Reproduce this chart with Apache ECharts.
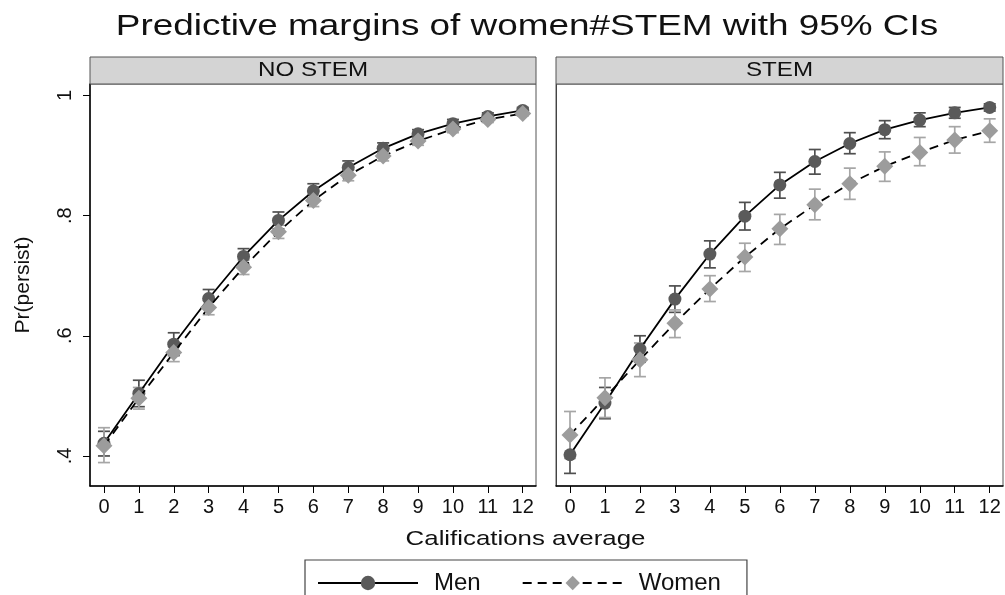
<!DOCTYPE html>
<html>
<head>
<meta charset="utf-8">
<script src="https://cdn.jsdelivr.net/npm/echarts@6/dist/echarts.min.js"></script>
<style>
html,body{margin:0;padding:0;background:#fff;}
#chart{width:1005px;height:595px;}
</style>
</head>
<body>
<div id="chart"></div>
<script>
// ---- data ----
const xValues = [0,1,2,3,4,5,6,7,8,9,10,11,12];
const yTicks = [0.4,0.6,0.8,1];
const panelNames = ['NO STEM','STEM'];
const seriesNames = ['Men','Women'];

const noStemMen   = [0.421,0.504,0.586,0.662,0.732,0.792,0.841,0.880,0.912,0.936,0.953,0.965,0.975];
const noStemMenLo = [0.400,0.482,0.567,0.647,0.719,0.778,0.829,0.869,0.903,0.929,0.946,0.959,0.970];
const noStemMenHi = [0.441,0.526,0.605,0.677,0.745,0.806,0.853,0.891,0.921,0.943,0.960,0.971,0.980];

const noStemWomen   = [0.417,0.496,0.572,0.647,0.714,0.773,0.825,0.867,0.899,0.924,0.944,0.960,0.970];
const noStemWomenLo = [0.389,0.478,0.557,0.635,0.702,0.762,0.815,0.858,0.891,0.917,0.938,0.955,0.966];
const noStemWomenHi = [0.447,0.514,0.587,0.659,0.726,0.784,0.835,0.876,0.907,0.931,0.950,0.965,0.974];

const stemMen   = [0.402,0.488,0.578,0.661,0.736,0.799,0.851,0.890,0.920,0.943,0.959,0.971,0.980];
const stemMenLo = [0.371,0.462,0.556,0.639,0.713,0.776,0.829,0.869,0.903,0.928,0.948,0.962,0.974];
const stemMenHi = [0.433,0.514,0.600,0.683,0.758,0.822,0.872,0.910,0.938,0.958,0.971,0.980,0.986];

const stemWomen   = [0.435,0.497,0.560,0.621,0.678,0.731,0.778,0.818,0.853,0.882,0.905,0.926,0.941];
const stemWomenLo = [0.396,0.464,0.532,0.597,0.657,0.707,0.752,0.793,0.827,0.857,0.883,0.904,0.922];
const stemWomenHi = [0.474,0.530,0.588,0.643,0.700,0.754,0.802,0.844,0.879,0.906,0.930,0.948,0.961];

// ---- styling ----
const FONT = 'Liberation Sans, Arial, Helvetica, sans-serif';
const MEN_MARK = '#5a5a5a', WOMEN_MARK = '#9c9c9c';
const MEN_CI = '#4f4f4f', WOMEN_CI = '#a6a6a6';

const chart = echarts.init(document.getElementById('chart'), null, {renderer:'canvas'});

function pairs(vals){ return xValues.map((x,i)=>[x, vals[i]]); }
function ciData(lo, hi){ return xValues.map((x,i)=>[x, lo[i], hi[i]]); }

function ciSeries(idx, lo, hi, color, name){
  return {
    type:'custom', name:name+' CI', xAxisIndex:idx, yAxisIndex:idx, z:2,
    data: ciData(lo, hi), encode:{x:0, y:[1,2]}, silent:true,
    renderItem: function(params, api){
      const x = api.value(0);
      const p1 = api.coord([x, api.value(1)]);
      const p2 = api.coord([x, api.value(2)]);
      const w = 6;
      const st = {stroke:color, lineWidth:1.7};
      return {type:'group', children:[
        {type:'line', shape:{x1:p1[0],y1:p1[1],x2:p2[0],y2:p2[1]}, style:st},
        {type:'line', shape:{x1:p1[0]-w,y1:p1[1],x2:p1[0]+w,y2:p1[1]}, style:st},
        {type:'line', shape:{x1:p2[0]-w,y1:p2[1],x2:p2[0]+w,y2:p2[1]}, style:st}
      ]};
    }
  };
}
function menLine(idx, vals){
  return {type:'line', name:'Men', xAxisIndex:idx, yAxisIndex:idx, z:3,
    data:pairs(vals), symbol:'circle', symbolSize:13, showSymbol:true,
    lineStyle:{color:'#000', width:1.8, type:'solid'},
    itemStyle:{color:MEN_MARK, borderWidth:0}};
}
function womenLine(idx, vals){
  return {type:'line', name:'Women', xAxisIndex:idx, yAxisIndex:idx, z:4,
    data:pairs(vals), symbol:'diamond', symbolSize:17, showSymbol:true,
    lineStyle:{color:'#000', width:1.8, type:[9,6]},
    itemStyle:{color:WOMEN_MARK, borderWidth:0}};
}

function xAxisCfg(idx){
  return {type:'value', gridIndex:idx, min:-0.4, max:12.38,
    axisLine:{show:true, onZero:false, lineStyle:{color:'#000', width:1.5}},
    axisTick:{show:true, customValues:xValues, length:7, lineStyle:{color:'#000', width:1}},
    axisLabel:{customValues:xValues, fontSize:20, fontFamily:FONT, color:'#111', margin:11},
    splitLine:{show:false}};
}
function yAxisCfg(idx){
  return {type:'value', gridIndex:idx, min:0.35, max:1.019,
    axisLine:{show:true, onZero:false, lineStyle:{color: idx===0?'#000':'#444', width: idx===0?1.5:1}},
    axisTick:{show: idx===0, customValues:yTicks, length:7, lineStyle:{color:'#000', width:1}},
    axisLabel:{show: idx===0, customValues:yTicks, rotate:90, fontSize:20, fontFamily:FONT, color:'#111', margin:15,
      formatter: v => (Math.abs(v-1)<1e-9 ? '1' : ('.' + Math.round(v*10)))},
    splitLine:{show:false},
    name: idx===0 ? 'Pr(persist)' : '', nameLocation:'middle', nameRotate:90, nameGap:56,
    nameTextStyle:{fontSize:21, fontFamily:FONT, color:'#111'}};
}

const option = {
  animation:false,
  backgroundColor:'#fff',
  grid:[
    {left:90, right:469, top:84, bottom:109, show:true, borderColor:'#555', borderWidth:1, containLabel:false},
    {left:556, right:2, top:84, bottom:109, show:true, borderColor:'#555', borderWidth:1, containLabel:false}
  ],
  xAxis:[xAxisCfg(0), xAxisCfg(1)],
  yAxis:[yAxisCfg(0), yAxisCfg(1)],
  legend:{
    data:seriesNames, left:305, top:560, orient:'horizontal',
    itemWidth:100, itemHeight:18, itemGap:41,
    padding:[11,26,20,12], borderColor:'#444', borderWidth:1.2,
    textStyle:{fontSize:24, fontFamily:FONT, color:'#111', padding:[0,0,0,11]}
  },
  graphic:[
    {type:'text', x:527, y:27, scaleX:1.23, z:10,
      style:{text:'Predictive margins of women#STEM with 95% CIs', font:'30px '+FONT, fill:'#111', textAlign:'center', textVerticalAlign:'middle'}},
    {type:'rect', shape:{x:90, y:57, width:446, height:27}, style:{fill:'#d4d4d4', stroke:'#555', lineWidth:1}, z:5},
    {type:'rect', shape:{x:556, y:57, width:447, height:27}, style:{fill:'#d4d4d4', stroke:'#555', lineWidth:1}, z:5},
    {type:'text', x:313, y:70, scaleX:1.15, z:10,
      style:{text:panelNames[0], font:'21px '+FONT, fill:'#111', textAlign:'center', textVerticalAlign:'middle'}},
    {type:'text', x:779.5, y:70, scaleX:1.15, z:10,
      style:{text:panelNames[1], font:'21px '+FONT, fill:'#111', textAlign:'center', textVerticalAlign:'middle'}},
    {type:'text', x:525.5, y:539, scaleX:1.23, z:10,
      style:{text:'Califications average', font:'21px '+FONT, fill:'#111', textAlign:'center', textVerticalAlign:'middle'}}
  ],
  series:[
    ciSeries(0, noStemMenLo, noStemMenHi, MEN_CI, 'Men'),
    ciSeries(0, noStemWomenLo, noStemWomenHi, WOMEN_CI, 'Women'),
    menLine(0, noStemMen),
    womenLine(0, noStemWomen),
    ciSeries(1, stemMenLo, stemMenHi, MEN_CI, 'Men'),
    ciSeries(1, stemWomenLo, stemWomenHi, WOMEN_CI, 'Women'),
    menLine(1, stemMen),
    womenLine(1, stemWomen)
  ]
};
chart.setOption(option);
</script>
</body>
</html>
